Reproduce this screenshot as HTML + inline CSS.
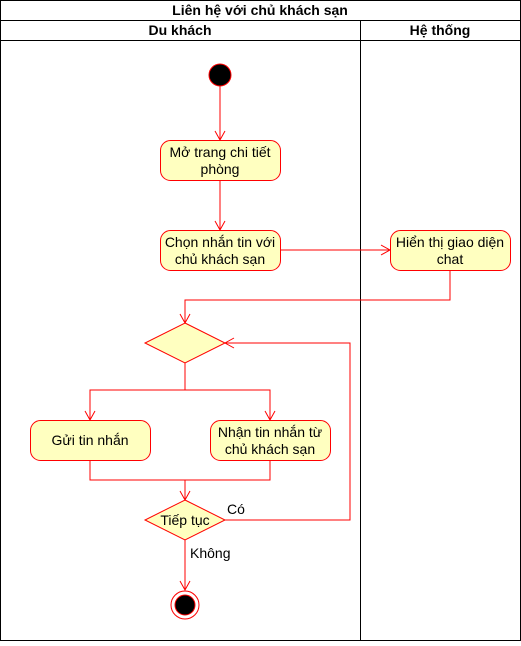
<!DOCTYPE html>
<html><head><meta charset="utf-8"><style>
body{margin:0;background:#fff}
text{font-family:"Liberation Sans","Noto Sans CJK SC",sans-serif;font-size:14px;fill:#000}
</style></head><body>
<svg width="521" height="641" xmlns="http://www.w3.org/2000/svg">
<defs><marker id="a" markerWidth="12" markerHeight="12" refX="10" refY="6" orient="auto" markerUnits="userSpaceOnUse"><path d="M1,1 L10,6 L1,11" fill="none" stroke="#f00" stroke-width="1"/></marker></defs>
<rect x="0.5" y="0.5" width="520" height="640" fill="#fff" stroke="#000"/>
<line x1="0" y1="20.5" x2="521" y2="20.5" stroke="#000"/>
<line x1="0" y1="40.5" x2="521" y2="40.5" stroke="#000"/>
<line x1="360.5" y1="20" x2="360.5" y2="641" stroke="#000"/>
<text x="260" y="15" text-anchor="middle" font-weight="bold">Liên hệ với chủ khách sạn</text>
<text x="180" y="35" text-anchor="middle" font-weight="bold">Du khách</text>
<text x="440" y="35" text-anchor="middle" font-weight="bold">Hệ thống</text>
<g stroke="#f00" fill="none">
<circle cx="220" cy="75" r="11" fill="#000"/>
<path d="M220,86 V140" marker-end="url(#a)"/>
<path d="M220,180 V230" marker-end="url(#a)"/>
<path d="M280,250 H390" marker-end="url(#a)"/>
<path d="M450,270 V300 H185 V323" marker-end="url(#a)"/>
<path d="M185,363 V390 H90 V420" marker-end="url(#a)"/>
<path d="M185,390 H270 V420" marker-end="url(#a)"/>
<path d="M90,460 V480 H270 V460"/>
<path d="M185,480 V500" marker-end="url(#a)"/>
<path d="M225,520 H350 V343 H225" marker-end="url(#a)"/>
<path d="M185,540 V590" marker-end="url(#a)"/>
<g fill="#ffffc0">
<rect x="160.5" y="140.5" width="120" height="40" rx="10"/>
<rect x="160.5" y="230.5" width="120" height="40" rx="10"/>
<rect x="390.5" y="230.5" width="120" height="40" rx="10"/>
<rect x="30.5" y="420.5" width="120" height="40" rx="10"/>
<rect x="210.5" y="420.5" width="120" height="40" rx="10"/>
<path d="M185,323 L225,343 L185,363 L145,343 Z"/>
<path d="M185,500 L225,520 L185,540 L145,520 Z"/>
</g>
<circle cx="185" cy="605" r="14" fill="#fff"/>
<circle cx="185" cy="605" r="10" fill="#000"/>
</g>
<g text-anchor="middle">
<text x="220" y="157">Mở trang chi tiết</text><text x="220" y="174">phòng</text>
<text x="220" y="247">Chọn nhắn tin với</text><text x="220" y="264">chủ khách sạn</text>
<text x="450" y="247">Hiển thị giao diện</text><text x="450" y="264">chat</text>
<text x="90" y="445">Gửi tin nhắn</text>
<text x="270" y="437">Nhận tin nhắn từ</text><text x="270" y="454">chủ khách sạn</text>
<text x="185" y="525">Tiếp tục</text>
</g>
<text x="227" y="514">Có</text>
<text x="190" y="558">Không</text>
</svg>
</body></html>
